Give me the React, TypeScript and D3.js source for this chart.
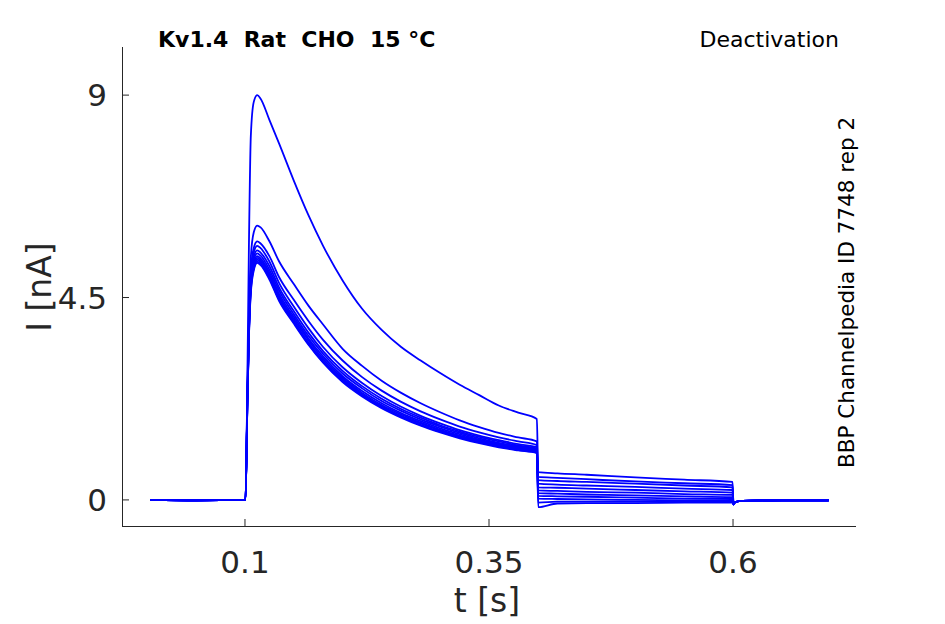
import React from "react";
import * as d3 from "d3";

// ---- data ----
const xTicks = [0.1, 0.35, 0.6];
const xTickLabels = ["0.1", "0.35", "0.6"];
const yTicks = [0, 4.5, 9];
const yTickLabels = ["0", "4.5", "9"];

const baseTimes = [0.003, 0.05, 0.0995];
const baseValues = [0, -0.01, 0];

const pulseTimes = [
  0.1005, 0.1025, 0.104, 0.106, 0.109, 0.1125, 0.116, 0.125, 0.135, 0.15, 0.165,
  0.18, 0.2, 0.22, 0.24, 0.26, 0.28, 0.3, 0.32, 0.34, 0.36, 0.38, 0.399,
];
const pulse1 = [0, 2.8, 5.6, 8.1, 8.85, 9.0, 8.92, 8.45, 7.92, 7.1, 6.33, 5.65, 4.88, 4.25, 3.78, 3.4, 3.1, 2.82, 2.56, 2.33, 2.1, 1.94, 1.8];
const pulse2 = [0, 2.5, 4.1, 5.4, 5.95, 6.1, 6.06, 5.75, 5.3, 4.8, 4.32, 3.9, 3.36, 2.98, 2.65, 2.38, 2.15, 1.95, 1.77, 1.62, 1.49, 1.39, 1.3];
const pulse3 = [0, 2.4, 3.9, 5.1, 5.6, 5.75, 5.7, 5.42, 4.95, 4.45, 3.98, 3.56, 3.1, 2.73, 2.43, 2.18, 1.97, 1.79, 1.63, 1.5, 1.39, 1.3, 1.22];
const pulse4 = [0, 2.3, 3.8, 5.0, 5.5, 5.65, 5.6, 5.3, 4.82, 4.3, 3.82, 3.4, 2.95, 2.6, 2.31, 2.07, 1.87, 1.7, 1.55, 1.43, 1.33, 1.24, 1.17];
const pulse5 = [0, 2.3, 3.75, 4.9, 5.4, 5.55, 5.5, 5.2, 4.72, 4.2, 3.72, 3.31, 2.87, 2.53, 2.25, 2.02, 1.83, 1.66, 1.52, 1.4, 1.3, 1.21, 1.14];
const pulse6 = [0, 2.25, 3.7, 4.85, 5.33, 5.48, 5.43, 5.12, 4.65, 4.13, 3.65, 3.25, 2.81, 2.48, 2.2, 1.98, 1.79, 1.63, 1.49, 1.37, 1.27, 1.19, 1.12];
const pulse7 = [0, 2.25, 3.7, 4.8, 5.27, 5.42, 5.37, 5.06, 4.58, 4.07, 3.59, 3.19, 2.75, 2.42, 2.15, 1.93, 1.75, 1.59, 1.46, 1.34, 1.25, 1.17, 1.1];
const pulse8 = [0, 2.2, 3.65, 4.75, 5.23, 5.38, 5.33, 5.01, 4.53, 4.02, 3.55, 3.14, 2.71, 2.38, 2.11, 1.9, 1.72, 1.56, 1.43, 1.32, 1.23, 1.15, 1.08];
const pulse9 = [0, 2.2, 3.65, 4.7, 5.18, 5.34, 5.29, 4.96, 4.49, 3.98, 3.5, 3.1, 2.68, 2.35, 2.08, 1.87, 1.7, 1.54, 1.41, 1.3, 1.21, 1.13, 1.07];
const pulse10 = [0, 2.2, 3.6, 4.65, 5.14, 5.3, 5.25, 4.93, 4.45, 3.95, 3.47, 3.07, 2.65, 2.32, 2.06, 1.85, 1.67, 1.52, 1.39, 1.28, 1.19, 1.11, 1.05];
const pulse11 = [0, 2.2, 3.6, 4.6, 5.1, 5.27, 5.22, 4.9, 4.42, 3.92, 3.45, 3.05, 2.62, 2.3, 2.04, 1.83, 1.65, 1.5, 1.37, 1.26, 1.17, 1.1, 1.04];

const tailTimes = [0.4005, 0.42, 0.45, 0.5, 0.55, 0.5995];
const tail1 = [0.62, 0.59, 0.56, 0.5, 0.45, 0.4];
const tail2 = [0.51, 0.49, 0.46, 0.41, 0.37, 0.33];
const tail3 = [0.44, 0.42, 0.4, 0.36, 0.32, 0.28];
const tail4 = [0.36, 0.34, 0.32, 0.29, 0.25, 0.22];
const tail5 = [0.28, 0.27, 0.25, 0.22, 0.19, 0.16];
const tail6 = [0.21, 0.2, 0.18, 0.16, 0.13, 0.11];
const tail7 = [0.15, 0.14, 0.12, 0.1, 0.08, 0.06];
const tail8 = [0.09, 0.08, 0.07, 0.05, 0.03, 0.02];
const tail9 = [0.03, 0.02, 0.01, 0.0, -0.01, -0.02];
const tail10 = [-0.06, -0.04, -0.04, -0.04, -0.04, -0.04];
const tail11 = [-0.16, -0.08, -0.07, -0.07, -0.06, -0.06];

const postTimes = [0.6005, 0.602, 0.61, 0.65, 0.698];
const postValues = [-0.1, -0.05, -0.02, -0.01, -0.01];

const pulses = [pulse1, pulse2, pulse3, pulse4, pulse5, pulse6, pulse7, pulse8, pulse9, pulse10, pulse11];
const tails = [tail1, tail2, tail3, tail4, tail5, tail6, tail7, tail8, tail9, tail10, tail11];

const title = "Kv1.4  Rat  CHO  15 °C";
const protocol = "Deactivation";
const sideNote = "BBP Channelpedia ID 7748 rep 2";
const xLabel = "t [s]";
const yLabel = "I [nA]";

export default function App() {
  const W = 945;
  const H = 624;
  const x = d3.scaleLinear().domain([-0.026, 0.726]).range([122, 856]);
  const y = d3.scaleLinear().domain([-0.58, 10.07]).range([526, 47]);
  const line = d3
    .line<[number, number]>()
    .x((d) => x(d[0]))
    .y((d) => y(d[1]))
    .curve(d3.curveMonotoneX);

  const traces: [number, number][][] = pulses.map((pv, i) => [
    ...baseTimes.map((t, j) => [t, baseValues[j]] as [number, number]),
    ...pulseTimes.map((t, j) => [t, pv[j]] as [number, number]),
    ...tailTimes.map((t, j) => [t, tails[i][j]] as [number, number]),
    ...postTimes.map((t, j) => [t, postValues[j]] as [number, number]),
  ]);

  const axisColor = "#262626";
  const font = "DejaVu Sans, sans-serif";
  const x0 = x.range()[0];
  const x1 = x.range()[1];
  const yb = y.range()[0];
  const yt = y.range()[1];

  return (
    <svg
      width={W}
      height={H}
      style={{ position: "absolute", left: 0, top: 0, background: "#fff" }}
    >
      <rect x={0} y={0} width={W} height={H} fill="#fff" />
      {/* traces */}
      <g fill="none" stroke="#0000ff" strokeWidth={1.8} strokeLinejoin="round">
        {traces
          .slice()
          .reverse()
          .map((tr, i) => (
            <path key={i} d={line(tr) || ""} />
          ))}
      </g>
      {/* axes */}
      <g stroke={axisColor} strokeWidth={1} fill="none">
        <line x1={x0} y1={yb + 0.5} x2={x1} y2={yb + 0.5} />
        <line x1={x0 + 0.5} y1={yb} x2={x0 + 0.5} y2={yt} />
        {xTicks.map((t) => (
          <line key={"xt" + t} x1={x(t)} x2={x(t)} y1={yb} y2={yb - 7} />
        ))}
        {yTicks.map((t) => (
          <line key={"yt" + t} x1={x0} x2={x0 + 7} y1={y(t)} y2={y(t)} />
        ))}
      </g>
      <g fill={axisColor} fontFamily={font} fontSize={31}>
        {xTicks.map((t, i) => (
          <text key={"xl" + t} x={x(t)} y={yb + 47} textAnchor="middle">
            {xTickLabels[i]}
          </text>
        ))}
        {yTicks.map((t, i) => (
          <text key={"yl" + t} x={x0 - 15} y={y(t) + 11} textAnchor="end">
            {yTickLabels[i]}
          </text>
        ))}
      </g>
      <text
        x={487}
        y={612}
        textAnchor="middle"
        fontFamily={font}
        fontSize={33}
        fill={axisColor}
      >
        {xLabel}
      </text>
      <text
        transform={`translate(51,287) rotate(-90)`}
        textAnchor="middle"
        fontFamily={font}
        fontSize={33}
        fill={axisColor}
      >
        {yLabel}
      </text>
      <text
        x={158}
        y={47}
        fontFamily={font}
        fontSize={22}
        fontWeight="bold"
        fill="#000"
        style={{ whiteSpace: "pre" }}
      >
        {title}
      </text>
      <text x={839} y={47} textAnchor="end" fontFamily={font} fontSize={22} fill="#000">
        {protocol}
      </text>
      <text
        transform={`translate(854,468) rotate(-90)`}
        fontFamily={font}
        fontSize={21.5}
        fill="#000"
      >
        {sideNote}
      </text>
    </svg>
  );
}
